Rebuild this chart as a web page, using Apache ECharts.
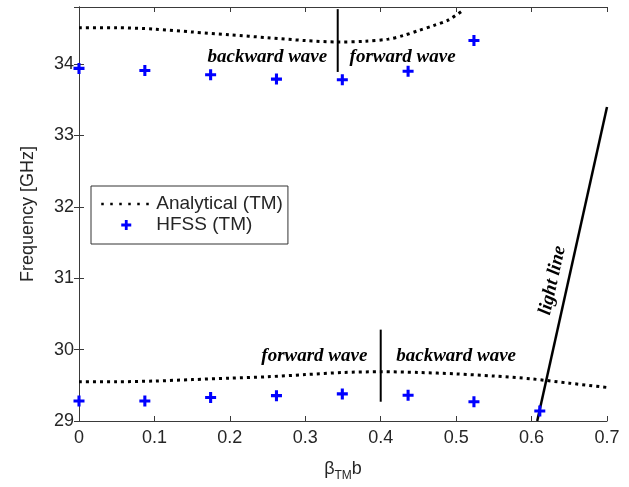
<!DOCTYPE html>
<html>
<head>
<meta charset="utf-8">
<script src="https://cdn.jsdelivr.net/npm/echarts@6/dist/echarts.min.js"></script>
<style>html,body{margin:0;padding:0;background:#fff;}#c{width:629px;height:487px;}</style>
</head>
<body>
<div id="c"></div>
<script>
// ---- data ----
const xTicks = [0, 0.1, 0.2, 0.3, 0.4, 0.5, 0.6, 0.7];
const yTicks = [29, 30, 31, 32, 33, 34];
const anaUpperX = [0, 0.05, 0.1, 0.15, 0.2, 0.25, 0.3, 0.343, 0.38, 0.41, 0.43, 0.45, 0.47, 0.49, 0.51];
const anaUpperY = [34.51, 34.51, 34.49, 34.45, 34.41, 34.37, 34.33, 34.31, 34.32, 34.35, 34.40, 34.47, 34.54, 34.62, 34.76];
const anaLowerX = [0, 0.05, 0.1, 0.15, 0.2, 0.25, 0.3, 0.35, 0.4, 0.45, 0.5, 0.55, 0.6, 0.65, 0.7];
const anaLowerY = [29.55, 29.55, 29.56, 29.58, 29.60, 29.62, 29.65, 29.68, 29.69, 29.68, 29.66, 29.63, 29.59, 29.53, 29.47];
const hfssUpperX = [0, 0.0873, 0.1745, 0.2618, 0.3491, 0.4363, 0.5236];
const hfssUpperY = [33.94, 33.91, 33.85, 33.79, 33.78, 33.90, 34.33];
const hfssLowerX = [0, 0.0873, 0.1745, 0.2618, 0.3491, 0.4363, 0.5236, 0.6109];
const hfssLowerY = [29.28, 29.28, 29.33, 29.355, 29.38, 29.36, 29.27, 29.14];
const lightLineX = [0.6075, 0.7];
const lightLineY = [29.0, 33.4];
const dividerUpperX = [0.343, 0.343];
const dividerUpperY = [33.89, 34.77];
const dividerLowerX = [0.4, 0.4];
const dividerLowerY = [29.27, 30.28];
const annotTexts = ['backward wave', 'forward wave', 'forward wave', 'backward wave'];
const annotX = [0.2497, 0.429, 0.312, 0.5];
const annotY = [34.10, 34.10, 29.91, 29.91];
const lightLabel = 'light line';
const lightLabelX = 0.628, lightLabelY = 30.97;

const zip = (xs, ys) => xs.map((x, i) => [x, ys[i]]);
const axisColor = '#3a3a3a';
const textColor = '#262626';
const plusPath = 'path://M3.6,0h2.8v3.6h3.6v2.8h-3.6v3.6h-2.8v-3.6h-3.6v-2.8h3.6z';

const chart = echarts.init(document.getElementById('c'));
const dotted = {color: '#000', width: 3, type: [3, 4], cap: 'butt'};
const option = {
  animation: false,
  backgroundColor: '#fff',
  grid: {left: 79, right: 22, top: 7, bottom: 66},
  legend: {
    left: 91, top: 186, orient: 'vertical',
    borderColor: '#333', borderWidth: 1, backgroundColor: '#fff',
    padding: [8, 5, 9, 9], itemGap: 1, itemWidth: 50, itemHeight: 10,
    textStyle: {fontFamily: 'Liberation Sans', fontSize: 19, color: textColor, lineHeight: 20},
    data: [
      {name: 'Analytical (TM)', itemStyle: {opacity: 0}, lineStyle: {color: '#000', width: 2.5, type: [2.5, 6.5], cap: 'butt'}},
      {name: 'HFSS (TM)', icon: plusPath, itemStyle: {color: '#0000ff'}}
    ]
  },
  xAxis: [{
    type: 'value', min: 0, max: 0.7, interval: 0.1,
    axisLine: {show: true, lineStyle: {color: axisColor}},
    axisTick: {inside: true, length: 5, lineStyle: {color: axisColor}},
    splitLine: {show: false},
    axisLabel: {color: textColor, fontFamily: 'Liberation Sans', fontSize: 18, margin: 8},
    name: '{a|β}{s|TM}{a|b}', nameLocation: 'middle', nameGap: 35,
    nameTextStyle: {rich: {
      a: {fontFamily: 'Liberation Sans', fontSize: 18, color: textColor, lineHeight: 22},
      s: {fontFamily: 'Liberation Sans', fontSize: 12, color: textColor, padding: [14, 0, 0, 0]}
    }}
  }, {
    type: 'value', position: 'top', min: 0, max: 0.7, interval: 0.1,
    axisLine: {show: true, lineStyle: {color: axisColor}},
    axisTick: {inside: true, length: 5, lineStyle: {color: axisColor}},
    axisLabel: {show: false}, splitLine: {show: false}
  }],
  yAxis: [{
    type: 'value', min: 29, max: 34.8, interval: 1,
    axisLine: {show: true, lineStyle: {color: axisColor}},
    axisTick: {inside: true, length: 5, lineStyle: {color: axisColor}},
    splitLine: {show: false},
    axisLabel: {color: textColor, fontFamily: 'Liberation Sans', fontSize: 18, margin: 5, showMaxLabel: false,
      formatter: v => (yTicks.indexOf(v) >= 0 ? String(v) : '')},
    name: 'Frequency [GHz]', nameLocation: 'middle', nameGap: 42,
    nameTextStyle: {fontFamily: 'Liberation Sans', fontSize: 18, color: textColor}
  }, {
    type: 'value', position: 'right', min: 29, max: 34.8, interval: 1,
    axisLine: {show: true, lineStyle: {color: axisColor}},
    axisTick: {inside: true, length: 5, lineStyle: {color: axisColor}},
    axisLabel: {show: false}, splitLine: {show: false}
  }],
  series: [
    {name: 'Analytical (TM)', type: 'line', data: zip(anaUpperX, anaUpperY), showSymbol: false, symbol: 'none', lineStyle: dotted, itemStyle: {color: '#000'}, smooth: 0.3},
    {name: 'Analytical (TM)', type: 'line', data: zip(anaLowerX, anaLowerY), showSymbol: false, symbol: 'none', lineStyle: dotted, itemStyle: {color: '#000'}, smooth: 0.3},
    {name: 'HFSS (TM)', type: 'scatter', data: zip(hfssUpperX, hfssUpperY), symbol: plusPath, symbolSize: 11, itemStyle: {color: '#0000ff', opacity: 1}, z: 5},
    {name: 'HFSS (TM)', type: 'scatter', data: zip(hfssLowerX, hfssLowerY), symbol: plusPath, symbolSize: 11, itemStyle: {color: '#0000ff', opacity: 1}, z: 5},
    {name: 'light', type: 'line', data: zip(lightLineX, lightLineY), symbol: 'none', lineStyle: {color: '#000', width: 2.5}},
    {name: 'div1', type: 'line', data: zip(dividerUpperX, dividerUpperY), symbol: 'none', lineStyle: {color: '#000', width: 2}},
    {name: 'div2', type: 'line', data: zip(dividerLowerX, dividerLowerY), symbol: 'none', lineStyle: {color: '#000', width: 2}}
  ]
};
chart.setOption(option);

// annotations placed in data coordinates
const annFont = 'italic bold 19px "Liberation Serif"';
const g = [];
annotTexts.forEach((t, i) => {
  const p = chart.convertToPixel({gridIndex: 0}, [annotX[i], annotY[i]]);
  g.push({type: 'text', x: p[0], y: p[1], z: 10,
    style: {text: t, font: annFont, fill: '#000', align: 'center', verticalAlign: 'middle'}});
});
const a = chart.convertToPixel({gridIndex: 0}, [lightLineX[0], lightLineY[0]]);
const b = chart.convertToPixel({gridIndex: 0}, [lightLineX[1], lightLineY[1]]);
const ang = Math.atan2(a[1] - b[1], b[0] - a[0]);
const lp = chart.convertToPixel({gridIndex: 0}, [lightLabelX, lightLabelY]);
g.push({type: 'text', x: lp[0], y: lp[1], rotation: ang, z: 10,
  style: {text: lightLabel, font: annFont, fill: '#000', align: 'center', verticalAlign: 'middle'}});
chart.setOption({graphic: g});
</script>
</body>
</html>
